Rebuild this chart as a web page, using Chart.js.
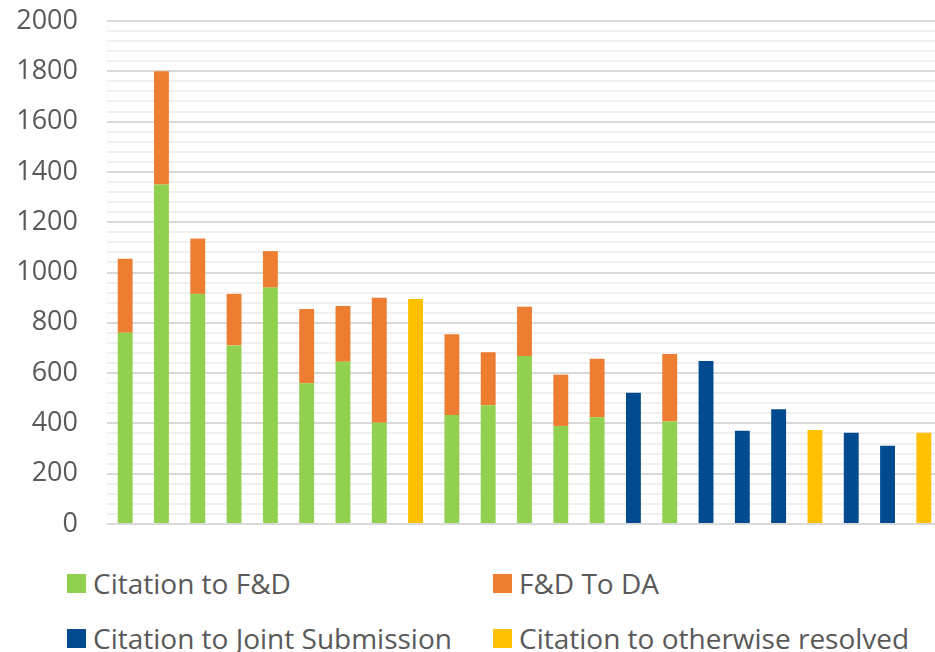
<!DOCTYPE html>
<html>
<head>
<meta charset="utf-8">
<script src="https://cdn.jsdelivr.net/npm/chart.js@4.4.1/dist/chart.umd.min.js"></script>
<style>
  html, body { margin: 0; padding: 0; background: #fff; overflow: hidden; }
  #wrap { position: relative; width: 935px; height: 652px; overflow: hidden; }
  #c { position: absolute; left: 0; top: 0; }
  .lg { position: absolute; display: flex; align-items: center; font-family: "Open Sans", sans-serif; font-size: 28px; color: #595959; white-space: nowrap; }
  .lg span.box { display: inline-block; width: 19px; height: 19px; margin-right: 7px; }
</style>
</head>
<body>
<div id="wrap">
  <canvas id="c" width="942" height="545"></canvas>
  <div id="legend"></div>
</div>
<script>
// ---- data ----
const categories = ['1','2','3','4','5','6','7','8','9','10','11','12','13','14','15','16','17','18','19','20','21','22','23'];
const seriesNames = ['Citation to F&D', 'F&D To DA', 'Citation to Joint Submission', 'Citation to otherwise resolved'];
const citationToFD      = [760, 1350, 915, 710, 940, 560, 645, 403, null, 433, 472, 668, 390, 424, null, 408, null, null, null, null, null, null, null];
const fdToDA            = [295, 450, 220, 205, 145, 295, 222, 497, null, 321, 211, 196, 204, 233, null, 268, null, null, null, null, null, null, null];
const citationToJoint   = [null, null, null, null, null, null, null, null, null, null, null, null, null, null, 522, null, 648, 371, 456, null, 363, 311, null];
const citationOtherwise = [null, null, null, null, null, null, null, null, 895, null, null, null, null, null, null, null, null, null, null, 374, null, null, 363];
const yTickLabels = ['0','200','400','600','800','1000','1200','1400','1600','1800','2000'];

const colors = ['#92D050', '#ED7D31', '#034B8F', '#FFC000'];
const seriesData = [citationToFD, fdToDA, citationToJoint, citationOtherwise];

const datasets = seriesNames.map((name, i) => ({
  label: name,
  data: seriesData[i],
  backgroundColor: colors[i],
  borderWidth: 0,
  stack: 's',
  barPercentage: 0.41,
  categoryPercentage: 1.0
}));

const chart = new Chart(document.getElementById('c'), {
  type: 'bar',
  data: { labels: categories, datasets },
  options: {
    responsive: false,
    devicePixelRatio: 1,
    animation: false,
    layout: { padding: { top: 21, bottom: 21, left: 0, right: 0 } },
    plugins: { legend: { display: false }, tooltip: { enabled: false } },
    scales: {
      x: { display: false, stacked: true },
      y: {
        stacked: true,
        min: 0, max: 2000,
        border: { display: false },
        afterFit: (s) => { s.width = 107; s.paddingTop = 0; s.paddingBottom = 0; },
        grid: {
          drawTicks: false,
          lineWidth: 2,
          color: (ctx) => (ctx.tick && ctx.tick.value % 200 === 0) ? '#D9D9D9' : '#F0F0F0'
        },
        ticks: {
          stepSize: 40,
          autoSkip: false,
          padding: 29,
          color: '#595959',
          font: { family: 'Open Sans', size: 27 },
          callback: (v) => (v % 200 === 0) ? yTickLabels[v / 200] : ''
        }
      }
    }
  }
});

// HTML legend (2 columns)
const legendPos = [[67, 583], [493, 583], [67, 638], [493, 638]];
const lg = document.getElementById('legend');
seriesNames.forEach((name, i) => {
  const d = document.createElement('div');
  d.className = 'lg';
  d.style.left = legendPos[i][0] + 'px';
  d.style.top = (legendPos[i][1] - 19) + 'px';
  d.style.height = '38px';
  d.innerHTML = '<span class="box" style="background:' + colors[i] + '"></span>';
  d.appendChild(document.createTextNode(name));
  lg.appendChild(d);
});
</script>
</body>
</html>
